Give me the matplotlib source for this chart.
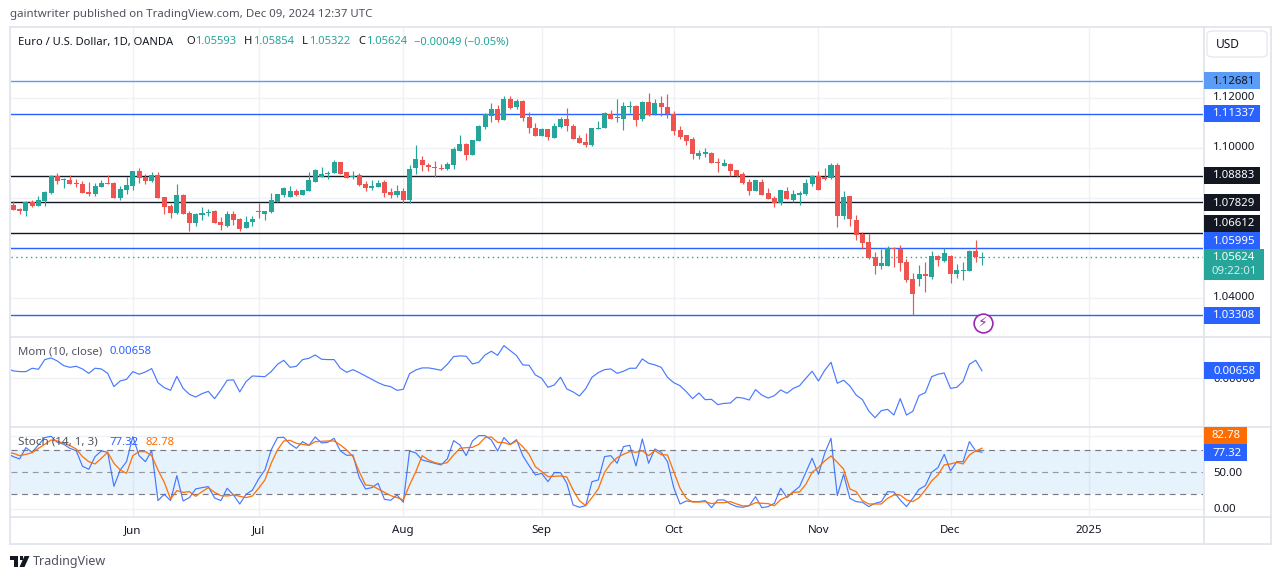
import numpy as np
import matplotlib.pyplot as plt
from matplotlib.patches import Rectangle, FancyBboxPatch, Polygon

plt.rcParams['font.family'] = ['Noto Sans', 'DejaVu Sans']

W, H = 1281, 579

opens = [1.0771,1.0755,1.0747,1.0783,1.0767,1.0787,1.0819,1.0887,1.0870,1.0871,1.0859,1.0855,1.0823,1.0815,1.0843,1.0859,1.0859,1.0799,1.0831,1.0847,
    1.0907,1.0883,1.0867,1.0891,1.0803,1.0767,1.0739,1.0811,1.0739,1.0699,1.0731,1.0739,1.0747,1.0703,1.0688,1.0735,1.0715,1.0680,1.0703,1.0747,
    1.0735,1.0743,1.0783,1.0811,1.0803,1.0827,1.0811,1.0827,1.0863,1.0883,1.0895,1.0899,1.0943,1.0903,1.0883,1.0890,1.0855,1.0839,1.0843,1.0863,
    1.0823,1.0811,1.0827,1.0791,1.0919,1.0951,1.0931,1.0923,1.0919,1.0915,1.0931,1.0987,1.1015,1.0971,1.1027,1.1083,1.1126,1.1154,1.1110,1.1194,
    1.1162,1.1186,1.1122,1.1079,1.1047,1.1075,1.1039,1.1083,1.1114,1.1087,1.1039,1.1023,1.1011,1.1075,1.1079,1.1134,1.1118,1.1114,1.1162,1.1166,
    1.1114,1.1182,1.1134,1.1178,1.1162,1.1134,1.1071,1.1051,1.1035,1.0967,1.0975,1.0979,1.0943,1.0927,1.0935,1.0911,1.0895,1.0863,1.0827,1.0863,
    1.0819,1.0799,1.0779,1.0827,1.0791,1.0811,1.0815,1.0855,1.0887,1.0883,1.0879,1.0931,1.0727,1.0807,1.0711,1.0656,1.0624,1.0564,1.0528,1.0528,
    1.0600,1.0596,1.0544,1.0476,1.0476,1.0496,1.0484,1.0568,1.0548,1.0568,1.0496,1.0509,1.0508,1.0588,1.05593]
highs = [1.0787,1.0759,1.0787,1.0791,1.0807,1.0827,1.0891,1.0899,1.0879,1.0891,1.0875,1.0867,1.0863,1.0859,1.0871,1.0891,1.0863,1.0847,1.0883,1.0907,
    1.0919,1.0895,1.0903,1.0903,1.0803,1.0775,1.0855,1.0815,1.0747,1.0739,1.0763,1.0755,1.0751,1.0723,1.0747,1.0747,1.0719,1.0727,1.0727,1.0779,
    1.0747,1.0819,1.0815,1.0843,1.0847,1.0835,1.0831,1.0903,1.0915,1.0923,1.0907,1.0951,1.0943,1.0903,1.0907,1.0899,1.0867,1.0871,1.0871,1.0871,
    1.0839,1.0851,1.0839,1.0931,1.1011,1.0967,1.0939,1.0947,1.0935,1.0943,1.1003,1.1051,1.1019,1.1031,1.1091,1.1138,1.1178,1.1170,1.1206,1.1206,
    1.1194,1.1190,1.1142,1.1099,1.1079,1.1075,1.1099,1.1122,1.1158,1.1095,1.1051,1.1059,1.1079,1.1107,1.1142,1.1150,1.1194,1.1182,1.1186,1.1170,
    1.1186,1.1218,1.1194,1.1206,1.1214,1.1146,1.1087,1.1051,1.1043,1.0991,1.0999,1.0983,1.0959,1.0955,1.0939,1.0911,1.0903,1.0875,1.0871,1.0875,
    1.0839,1.0807,1.0831,1.0843,1.0831,1.0827,1.0875,1.0891,1.0907,1.0919,1.0939,1.0939,1.0827,1.0807,1.0731,1.0664,1.0656,1.0584,1.0596,1.0608,
    1.0604,1.0612,1.0556,1.0500,1.0532,1.0544,1.0588,1.0572,1.0600,1.0572,1.0536,1.0544,1.0592,1.0632,1.05854]
lows = [1.0751,1.0735,1.0727,1.0763,1.0767,1.0767,1.0815,1.0855,1.0839,1.0855,1.0843,1.0819,1.0807,1.0807,1.0843,1.0855,1.0799,1.0791,1.0815,1.0831,
    1.0859,1.0855,1.0863,1.0799,1.0735,1.0719,1.0735,1.0735,1.0668,1.0688,1.0711,1.0727,1.0699,1.0672,1.0684,1.0692,1.0668,1.0680,1.0688,1.0719,
    1.0711,1.0739,1.0783,1.0803,1.0803,1.0807,1.0811,1.0827,1.0863,1.0883,1.0875,1.0899,1.0895,1.0879,1.0875,1.0847,1.0827,1.0831,1.0843,1.0803,
    1.0799,1.0803,1.0779,1.0779,1.0895,1.0907,1.0907,1.0883,1.0911,1.0911,1.0915,1.0987,1.0951,1.0971,1.1027,1.1075,1.1103,1.1103,1.1110,1.1154,
    1.1154,1.1107,1.1059,1.1047,1.1047,1.1031,1.1039,1.1079,1.1067,1.1035,1.1019,1.1003,1.1007,1.1075,1.1079,1.1114,1.1103,1.1071,1.1138,1.1087,
    1.1107,1.1126,1.1130,1.1126,1.1118,1.1051,1.1035,1.1011,1.0955,1.0955,1.0963,1.0939,1.0903,1.0927,1.0887,1.0883,1.0855,1.0811,1.0827,1.0811,
    1.0795,1.0763,1.0771,1.0795,1.0783,1.0771,1.0811,1.0847,1.0831,1.0871,1.0875,1.0684,1.0715,1.0688,1.0632,1.0596,1.0556,1.0496,1.0516,1.0528,
    1.0524,1.0508,1.0464,1.0332,1.0448,1.0424,1.0476,1.0528,1.0544,1.0460,1.0480,1.0472,1.0508,1.0544,1.05322]
closes = [1.0751,1.0747,1.0783,1.0767,1.0791,1.0823,1.0889,1.0867,1.0872,1.0855,1.0855,1.0819,1.0815,1.0847,1.0859,1.0856,1.0799,1.0835,1.0851,1.0907,
    1.0879,1.0867,1.0891,1.0799,1.0763,1.0739,1.0811,1.0735,1.0699,1.0735,1.0739,1.0743,1.0699,1.0692,1.0735,1.0711,1.0676,1.0703,1.0715,1.0743,
    1.0747,1.0791,1.0815,1.0839,1.0827,1.0811,1.0831,1.0871,1.0911,1.0895,1.0899,1.0943,1.0895,1.0879,1.0888,1.0851,1.0839,1.0847,1.0859,1.0819,
    1.0811,1.0827,1.0791,1.0915,1.0955,1.0931,1.0923,1.0919,1.0915,1.0935,1.0995,1.1015,1.0971,1.1031,1.1087,1.1134,1.1154,1.1110,1.1194,1.1158,
    1.1186,1.1118,1.1079,1.1047,1.1075,1.1043,1.1087,1.1114,1.1087,1.1035,1.1019,1.1011,1.1079,1.1079,1.1138,1.1114,1.1122,1.1166,1.1166,1.1110,
    1.1182,1.1130,1.1178,1.1162,1.1134,1.1067,1.1043,1.1027,1.0975,1.0979,1.0983,1.0939,1.0939,1.0939,1.0907,1.0887,1.0859,1.0827,1.0871,1.0811,
    1.0795,1.0779,1.0831,1.0795,1.0815,1.0819,1.0859,1.0887,1.0831,1.0875,1.0931,1.0727,1.0803,1.0715,1.0652,1.0620,1.0560,1.0528,1.0540,1.0600,
    1.0596,1.0540,1.0472,1.0416,1.0496,1.0488,1.0568,1.0552,1.0580,1.0496,1.0512,1.0512,1.0588,1.0564,1.05624]

momentum = [0.0087,0.0064,0.0058,0.0058,0.0087,0.0078,0.0162,0.0176,0.0150,0.0110,0.0095,0.0104,0.0081,0.0043,0.0087,0.0081,0.0043,-0.0072,-0.0023,-0.0009,
    0.0058,0.0035,0.0055,0.0084,-0.0038,-0.0081,-0.0104,0.0017,-0.0087,-0.0139,-0.0162,-0.0133,-0.0113,-0.0176,-0.0101,-0.0017,-0.0014,-0.0118,-0.0029,0.0020,
    0.0017,0.0014,0.0058,0.0121,0.0156,0.0095,0.0104,0.0162,0.0173,0.0202,0.0165,0.0162,0.0162,0.0087,0.0052,0.0075,0.0049,0.0020,-0.0009,-0.0038,
    -0.0061,-0.0072,-0.0104,-0.0095,0.0040,0.0072,0.0090,0.0090,0.0081,0.0069,0.0121,0.0188,0.0194,0.0191,0.0124,0.0139,0.0202,0.0234,0.0199,0.0283,
    0.0240,0.0197,0.0116,0.0113,0.0029,0.0000,-0.0078,-0.0058,0.0009,-0.0092,-0.0118,-0.0153,-0.0090,0.0009,0.0049,0.0075,0.0081,0.0043,0.0061,0.0087,
    0.0087,0.0168,0.0130,0.0116,0.0095,0.0009,-0.0038,-0.0064,-0.0116,-0.0176,-0.0127,-0.0185,-0.0182,-0.0228,-0.0217,-0.0214,-0.0165,-0.0171,-0.0188,-0.0098,
    -0.0145,-0.0171,-0.0150,-0.0101,-0.0130,-0.0087,-0.0064,0.0000,0.0061,-0.0023,0.0069,0.0139,-0.0043,-0.0017,-0.0066,-0.0145,-0.0185,-0.0283,-0.0341,-0.0280,
    -0.0269,-0.0318,-0.0176,-0.0318,-0.0286,-0.0150,-0.0124,0.0014,0.0035,0.0046,-0.0087,-0.0078,-0.0026,0.0121,0.0156,0.00658]

stoch_k = [75.9,71.4,68.2,83.6,77.3,87.3,97.3,99.1,90.9,88.2,82.7,79.5,58.2,54.1,71.4,79.1,77.3,30.9,53.2,64.5,
    98.6,72.7,64.5,79.5,11.4,20.0,11.4,45.5,10.9,15.5,27.3,29.1,30.5,15.0,11.4,28.2,19.1,6.8,20.0,25.5,
    40.9,53.2,80.5,97.3,97.7,88.6,82.7,91.8,86.8,98.2,90.0,90.9,96.4,79.1,73.2,73.6,42.7,27.3,29.1,35.0,
    13.2,11.8,19.1,9.1,79.1,76.4,66.8,64.5,62.3,60.0,68.2,93.2,87.3,72.7,92.7,100.0,100.0,94.1,79.1,97.3,
    88.2,94.5,72.7,59.1,46.4,48.6,37.3,49.5,49.5,35.0,5.5,2.3,4.5,37.3,39.5,71.4,72.7,62.3,85.0,86.8,
    58.6,95.5,62.3,81.8,77.3,64.5,29.1,6.8,10.9,10.0,10.0,11.4,1.8,12.3,12.3,6.8,3.2,2.3,4.5,16.8,
    1.8,3.2,7.7,28.2,15.5,23.6,30.5,50.0,69.1,47.3,75.9,96.4,18.2,47.3,14.5,10.0,9.1,3.2,7.7,10.0,
    23.6,23.2,12.3,3.2,14.5,26.8,31.8,50.0,56.4,74.5,51.8,64.5,64.5,91.8,79.1,77.32]
stoch_d = [77.3,75.9,72.7,74.5,76.8,82.7,88.2,94.1,92.7,89.5,86.4,81.8,71.4,64.5,61.4,69.1,77.3,62.3,53.2,48.6,
    72.7,78.2,78.2,72.7,53.2,36.4,13.6,25.0,22.7,23.6,17.3,23.6,29.1,22.7,18.2,17.7,19.1,17.3,15.5,17.7,
    28.2,39.5,62.3,80.5,92.7,93.6,89.5,88.2,86.8,91.8,92.3,92.7,92.7,87.3,80.5,71.4,50.9,32.7,31.8,27.3,
    22.7,18.2,15.5,12.3,32.7,50.9,72.7,66.8,63.2,61.4,63.2,73.6,82.7,83.6,84.1,88.2,97.3,98.2,90.9,90.5,
    87.7,92.7,85.0,74.5,57.7,50.9,44.1,44.5,45.0,43.6,25.9,11.4,4.5,15.5,27.3,50.0,62.3,70.0,74.5,78.2,
    77.3,79.5,72.7,79.5,74.1,73.6,50.9,28.2,14.5,9.5,9.5,10.0,7.3,8.6,8.6,10.0,6.8,4.1,4.5,8.6,
    7.7,7.3,4.5,12.7,16.8,22.7,23.2,33.6,50.0,56.4,65.5,72.3,63.6,54.5,27.3,23.6,11.4,6.8,6.8,6.8,
    14.5,19.1,19.1,12.3,10.0,15.5,25.9,38.2,46.4,60.0,61.4,63.6,61.4,73.6,79.1,82.78]

month_bars = [20, 40, 63, 85, 106, 129, 150, 172]
month_labels = ['Jun', 'Jul', 'Aug', 'Sep', 'Oct', 'Nov', 'Dec', '2025']

blue_levels = [1.11337, 1.05995, 1.03308]
black_levels = [1.08883, 1.07829, 1.06612]
light_level = 1.12681
last_close = 1.05624
price_ticks = [1.12, 1.10, 1.08, 1.06, 1.04]

GREEN = '#26a69a'
RED = '#ef5350'
BLUE = '#2962ff'
ORANGE = '#ff6d00'
DARK = '#131722'
GRID = '#f0f1f4'
BORDER = '#e0e3eb'
TEXT = '#131722'
GREY = '#50535e'


def px_axes(x0, y0, x1, y1):
    return fig.add_axes([x0 / W, 1 - y1 / H, (x1 - x0) / W, (y1 - y0) / H])


def put(x, y, s, color=TEXT, size=8.05, ha='left', **kw):
    # noto's descent sits the text about a pixel high, hence the +1
    fig.text(x / W, 1 - (y + 1) / H, s, color=color, fontsize=size, ha=ha, va='center', zorder=kw.pop('zorder', 20), **kw)


def box(x0, y0, x1, y1, color, z=15):
    fig.add_artist(Rectangle((x0 / W, 1 - y1 / H), (x1 - x0) / W, (y1 - y0) / H, transform=fig.transFigure,
                             facecolor=color, edgecolor='none', zorder=z))


def price_tag(y0, y1, s, color, tcolor='white', x1=1260):
    box(1204, y0, x1, y1, color)
    put(1213, (y0 + y1) / 2 - 0.5, s, color=tcolor, size=8.2)


fig = plt.figure(figsize=(W / 100, H / 100), dpi=100, facecolor='white')

left, right = 10.5, 1203
xlim = (1 + (left - 13.3) / 6.29, 1 + (right - 13.3) / 6.29)

# price pane
ax = px_axes(left, 27.5, right, 336.5)
ax.set_xlim(xlim)
ax.set_ylim(1.12681 - (336.5 - 80.5) / 2507, 1.12681 + (80.5 - 27.5) / 2507)

# momentum pane
ax_mom = px_axes(left, 336.5, right, 426.5)
ax_mom.set_xlim(xlim)
ax_mom.set_ylim(-(426.5 - 378.3) / 1155, (378.3 - 336.5) / 1155)

# stochastic pane
ax_st = px_axes(left, 426.5, right, 516.5)
ax_st.set_xlim(xlim)
ax_st.set_ylim(50 - (516.5 - 472.3) / 0.7333, 50 + (472.3 - 426.5) / 0.7333)

for a in (ax, ax_mom, ax_st):
    a.set_xticks([])
    a.set_yticks([])
    for s in a.spines.values():
        s.set_visible(False)
    a.patch.set_alpha(0)
    for m in month_bars:
        a.axvline(m, color=GRID, lw=1, zorder=0)

for p in price_ticks:
    ax.axhline(p, color=GRID, lw=1, zorder=0)

# levels
ax.axhline(light_level, color='#5b9cf6', lw=1, zorder=1)
for p in blue_levels:
    ax.axhline(p, color=BLUE, lw=1, zorder=1)
for p in black_levels:
    ax.axhline(p, color=DARK, lw=1, zorder=1)
ax.axhline(last_close, color=GREEN, lw=1, ls=(0, (1, 2.5)), zorder=1)

# candles
idx = np.arange(1, len(opens) + 1)
o, h, l, c = map(np.array, (opens, highs, lows, closes))
cols = np.where(c >= o, GREEN, RED)
ax.vlines(idx, l, h, colors=cols, lw=0.85, zorder=3)
ax.bar(idx, np.maximum(np.abs(c - o), 0.0004), bottom=np.minimum(o, c), width=0.8, color=cols, lw=0, zorder=4)

# indicators
line_x = np.arange(len(momentum))
ax_mom.axhline(0, color=GRID, lw=1, zorder=0)
ax_mom.plot(line_x, momentum, color=BLUE, lw=0.85, alpha=0.85)

ax_st.axhspan(20, 80, color='#2196f3', alpha=0.11, lw=0, zorder=0)
ax_st.axhline(100, color=GRID, lw=1, zorder=0)
ax_st.axhline(0, color=GRID, lw=1, zorder=0)
ax_st.axhline(80, color='#787b86', lw=0.85, ls=(0, (5, 4)), zorder=1)
ax_st.axhline(50, color='#9598a1', lw=0.85, ls=(0, (5, 4)), zorder=1)
ax_st.axhline(20, color='#787b86', lw=0.85, ls=(0, (5, 4)), zorder=1)
ax_st.plot(line_x, stoch_k, color=BLUE, lw=0.85, alpha=0.85, zorder=2)
ax_st.plot(line_x, stoch_d, color=ORANGE, lw=0.95, alpha=0.95, zorder=3)

# frame
frame_lines = [((10, 1271), (27, 27)), ((10, 1271), (543.5, 543.5)), ((10, 10), (27, 543.5)), ((1270.5, 1270.5), (27, 543.5)),
               ((1203.5, 1203.5), (27, 543.5)), ((10, 1271), (336.5, 336.5)), ((10, 1271), (426.5, 426.5)), ((10, 1271), (516.5, 516.5))]
for xs, ys in frame_lines:
    fig.add_artist(plt.Line2D([x / W for x in xs], [1 - y / H for y in ys], transform=fig.transFigure, color=BORDER, lw=1.2, zorder=10))

# header and legends
put(10, 14, 'gaintwriter published on TradingView.com, Dec 09, 2024 12:37 UTC', color=GREY, size=8.25)
put(18, 41, 'Euro / U.S. Dollar, 1D, OANDA')
for x, s in [(186.5, 'O'), (244, 'H'), (302, 'L'), (358, 'C')]:
    put(x, 41, s)
for x, s in [(195, '1.05593'), (253, '1.05854'), (309, '1.05322'), (366, '1.05624'), (414, '\u22120.00049 (\u22120.05%)')]:
    put(x, 41, s, color=GREEN)
put(18, 350.5, 'Mom (10, close)', color=GREY, size=8.2)
put(110, 350.5, '0.00658', color=BLUE, size=8.2)
put(18, 441.5, 'Stoch (14, 1, 3)', color=GREY, size=8.4)
put(109, 441.5, '77.32', color=BLUE, size=8.2)
put(145, 441.5, '82.78', color=ORANGE, size=8.2)

# time axis
for m, s in zip(month_bars, month_labels):
    x = 13.3 + 6.29 * (m - 1)
    put(x, 529.5, s, color=DARK, size=8.3, ha='center')

# price axis labels, the two half hidden ones sit behind the tags as in the original
for p, y in [('1.12000', 96), ('1.10000', 147), ('1.08000', 198), ('1.04000', 297), ('0.00000', 378)]:
    put(1213, y, p, color=DARK, size=8.2, zorder=12)
put(1213, 472, '50.00', color=DARK, size=8.2, zorder=12)
put(1213, 508, '0.00', color=DARK, size=8.2, zorder=12)

price_tag(72, 89, '1.12681', '#5b9cf6', tcolor=DARK)
price_tag(105, 122, '1.11337', BLUE)
price_tag(167, 184, '1.08883', DARK)
price_tag(194, 211, '1.07829', DARK)
price_tag(215, 232, '1.06612', DARK)
price_tag(232, 249, '1.05995', BLUE)
box(1204, 249, 1264, 280, GREEN)
put(1213, 257, '1.05624', color='white', size=8.2)
put(1212, 271, '09:22:01', color='#d4eeeb', size=8.2)
price_tag(307, 324, '1.03308', BLUE)
price_tag(362, 379, '0.00658', BLUE)
box(1204, 427, 1247, 444, ORANGE)
put(1212, 435, '82.78', color='white', size=8.2)
box(1204, 444, 1247, 461, BLUE)
put(1212, 452, '77.32', color='white', size=8.2)

# currency button
fig.add_artist(FancyBboxPatch((1207 / W, 1 - 57 / H), 60 / W, 26 / H, boxstyle='round,pad=0,rounding_size=0.005',
                              transform=fig.transFigure, facecolor='white', edgecolor=BORDER, lw=0.8, zorder=12))
put(1216, 43.5, 'USD', color=DARK, size=8.6)

# alert icon
fig.add_artist(plt.Line2D([983 / W], [1 - 323 / H], marker='o', ms=13.5, mfc='white', mec='#9c27b0', mew=1.2,
                          transform=fig.transFigure, zorder=14))
put(983, 322, '\u26a1', color='#9c27b0', size=10, ha='center', family='DejaVu Sans', zorder=15)

# footer logo
box(10, 556, 18, 560, DARK)
box(14, 556, 18, 567, DARK)
box(19.5, 556, 23, 560, DARK)
fig.add_artist(Polygon([(24.5 / W, 1 - 556 / H), (29.5 / W, 1 - 556 / H), (24.5 / W, 1 - 567 / H), (19.5 / W, 1 - 567 / H)],
                       transform=fig.transFigure, facecolor=DARK, edgecolor='none', zorder=15))
put(33, 560.5, 'TradingView', color=GREY, size=9)

fig.savefig('out.png', dpi=100)
